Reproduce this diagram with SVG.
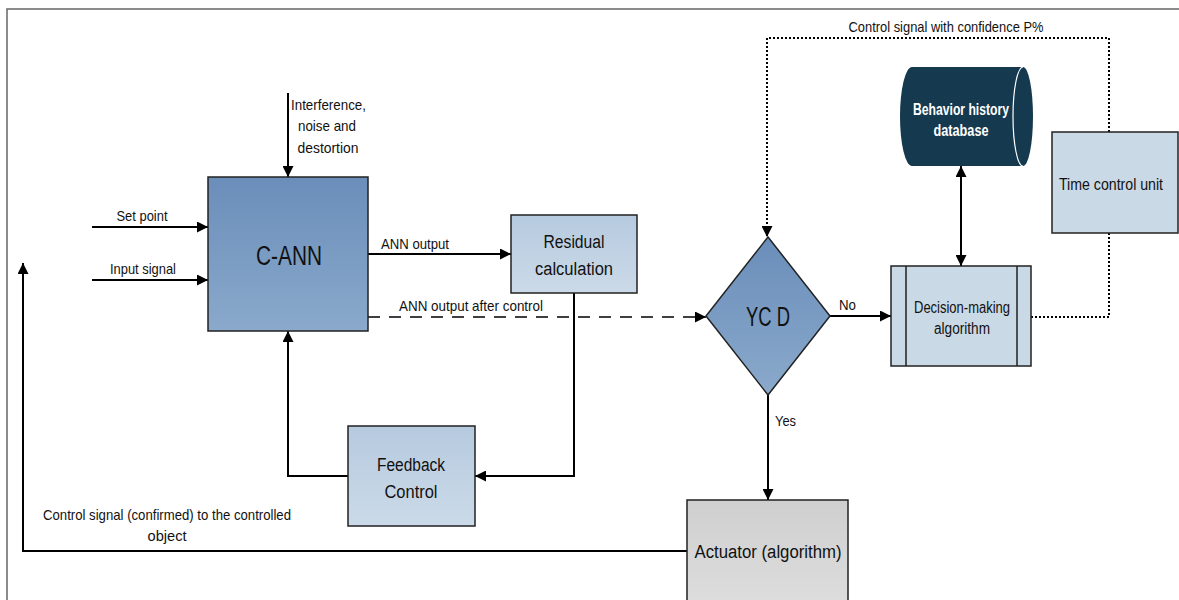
<svg xmlns="http://www.w3.org/2000/svg" width="1179" height="600" viewBox="0 0 1179 600">
<defs>
<linearGradient id="gDark" x1="0" y1="0" x2="0" y2="1"><stop offset="0" stop-color="#6a8eba"/><stop offset="1" stop-color="#8aa9cb"/></linearGradient>
<linearGradient id="gLight" x1="0" y1="0" x2="0" y2="1"><stop offset="0" stop-color="#b6cadf"/><stop offset="1" stop-color="#cbdae8"/></linearGradient>
<linearGradient id="gGray" x1="0" y1="0" x2="0" y2="1"><stop offset="0" stop-color="#cfcfcf"/><stop offset="1" stop-color="#dedede"/></linearGradient>
<marker id="ah" viewBox="0 0 10 10" refX="10" refY="5" markerWidth="11" markerHeight="11" markerUnits="userSpaceOnUse" orient="auto-start-reverse"><path d="M0,0 L10,5 L0,10 z" fill="#000"/></marker>
</defs>
<style>
text{font-family:"Liberation Sans",Arial,sans-serif;fill:#111;}
.lbl{font-size:15px;}
.box{stroke:#222;stroke-width:1.5;}
.c{fill:none;stroke:#000;stroke-width:2;}
.dash{fill:none;stroke:#000;stroke-width:1.5;stroke-dasharray:12,9;}
.dot{fill:none;stroke:#000;stroke-width:2;stroke-dasharray:2,2;}
.mid{text-anchor:middle;}
</style>
<rect width="1179" height="600" fill="#fff"/>
<path d="M7,600 L7,9 L1179,9" fill="none" stroke="#666" stroke-width="1.5"/>

<g id="connectors">
<path class="c" d="M288,93 L288,177" marker-end="url(#ah)"/>
<path class="c" d="M92,227 L208,227" marker-end="url(#ah)"/>
<path class="c" d="M92,280 L208,280" marker-end="url(#ah)"/>
<path class="c" d="M368,254 L511,254" marker-end="url(#ah)"/>
<path class="dash" d="M368,317 L706,317" marker-end="url(#ah)"/>
<path class="c" d="M574,293 L574,476 L475,476" marker-end="url(#ah)"/>
<path class="c" d="M348,476 L288,476 L288,331" marker-end="url(#ah)"/>
<path class="c" d="M687,551 L23,551 L23,263" marker-end="url(#ah)"/>
<path class="c" d="M830,316 L891,316" marker-end="url(#ah)"/>
<path class="c" d="M768,395 L768,500" marker-end="url(#ah)"/>
<path class="c" d="M961,166 L961,266" marker-start="url(#ah)" marker-end="url(#ah)"/>
<path class="dot" d="M1031,317 L1109,317 L1109,233"/>
<path class="dot" d="M1109,132 L1109,38 L767,38 L767,237" marker-end="url(#ah)"/>
<text class="lbl mid" x="142" y="221" textLength="51" lengthAdjust="spacingAndGlyphs">Set point</text>
<text class="lbl mid" x="143" y="274" textLength="66" lengthAdjust="spacingAndGlyphs">Input signal</text>
<text class="lbl" x="291" y="110" textLength="75" lengthAdjust="spacingAndGlyphs">Interference,</text>
<text class="lbl mid" x="327" y="131" textLength="58" lengthAdjust="spacingAndGlyphs">noise and</text>
<text class="lbl mid" x="328" y="153" textLength="61" lengthAdjust="spacingAndGlyphs">destortion</text>
<text class="lbl" x="381" y="249" textLength="68" lengthAdjust="spacingAndGlyphs">ANN output</text>
<text class="lbl" x="399" y="311" textLength="144" lengthAdjust="spacingAndGlyphs">ANN output after control</text>
<text class="lbl" x="839" y="310" textLength="17" lengthAdjust="spacingAndGlyphs">No</text>
<text class="lbl" x="775" y="426" textLength="21" lengthAdjust="spacingAndGlyphs">Yes</text>
<text class="lbl mid" x="946" y="32" textLength="195" lengthAdjust="spacingAndGlyphs">Control signal with confidence P%</text>
<text class="lbl" x="43" y="520" textLength="248" lengthAdjust="spacingAndGlyphs">Control signal (confirmed) to the controlled</text>
<text class="lbl mid" x="167" y="541" textLength="39" lengthAdjust="spacingAndGlyphs">object</text>
</g>

<g id="c-ann">
<rect class="box" x="208" y="177" width="160" height="154" fill="url(#gDark)"/>
<text class="mid" x="289" y="265" font-size="27" textLength="66" lengthAdjust="spacingAndGlyphs">C-ANN</text>
</g>
<g id="residual">
<rect class="box" x="511" y="215" width="126" height="78" fill="url(#gLight)"/>
<text class="mid" x="574" y="248" font-size="18" textLength="61" lengthAdjust="spacingAndGlyphs">Residual</text>
<text class="mid" x="574" y="275" font-size="18" textLength="78" lengthAdjust="spacingAndGlyphs">calculation</text>
</g>
<g id="feedback">
<rect class="box" x="348" y="426" width="127" height="100" fill="url(#gLight)"/>
<text class="mid" x="411" y="471" font-size="18" textLength="68" lengthAdjust="spacingAndGlyphs">Feedback</text>
<text class="mid" x="411" y="498" font-size="18" textLength="53" lengthAdjust="spacingAndGlyphs">Control</text>
</g>
<g id="ycd">
<path class="box" d="M768,237 L830,316 L768,395 L706,316 Z" fill="url(#gDark)"/>
<text class="mid" x="768" y="326" font-size="27" textLength="44" lengthAdjust="spacingAndGlyphs">YC D</text>
</g>
<g id="actuator">
<rect class="box" x="687" y="500" width="161" height="110" fill="url(#gGray)"/>
<text class="mid" x="768" y="558" font-size="18" textLength="147" lengthAdjust="spacingAndGlyphs">Actuator (algorithm)</text>
</g>
<g id="database">
<path d="M912,67 L1023,67 A10,49.5 0 0 1 1023,166 L912,166 A12,49.5 0 0 1 912,67 Z" fill="#15394f"/>
<path d="M1023,67 A10,49.5 0 0 0 1023,166" fill="none" stroke="#fff" stroke-width="1.2"/>
<text class="mid" x="961" y="115" font-size="16" font-weight="bold" style="fill:#fff" textLength="96" lengthAdjust="spacingAndGlyphs">Behavior history</text>
<text class="mid" x="961" y="136" font-size="16" font-weight="bold" style="fill:#fff" textLength="55" lengthAdjust="spacingAndGlyphs">database</text>
</g>
<g id="decision">
<rect class="box" x="891" y="266" width="140" height="100" fill="#c9d9e6"/>
<path d="M906,266 L906,366 M1017,266 L1017,366" stroke="#222" stroke-width="1.5"/>
<text class="mid" x="962" y="313" font-size="16" textLength="96" lengthAdjust="spacingAndGlyphs">Decision-making</text>
<text class="mid" x="962" y="334" font-size="16" textLength="56" lengthAdjust="spacingAndGlyphs">algorithm</text>
</g>
<g id="time-control">
<rect class="box" x="1052" y="132" width="126" height="101" fill="#c9d9e6"/>
<text class="mid" x="1111" y="190" font-size="16" textLength="104" lengthAdjust="spacingAndGlyphs">Time control unit</text>
</g>
</svg>
